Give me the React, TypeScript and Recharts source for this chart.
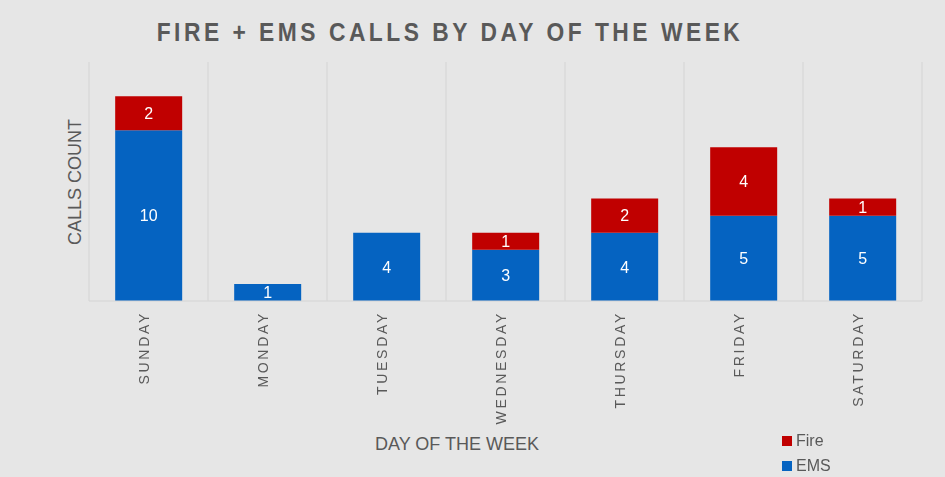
import { Bar, BarChart, CartesianGrid, LabelList, XAxis, YAxis } from "recharts";

const days = ["SUNDAY", "MONDAY", "TUESDAY", "WEDNESDAY", "THURSDAY", "FRIDAY", "SATURDAY"];
const emsCalls = [10, 1, 4, 3, 4, 5, 5];
const fireCalls = [2, 0, 0, 1, 2, 4, 1];

const data = days.map((day, i) => ({ day, ems: emsCalls[i], fire: fireCalls[i] }));

const GRAY = "#595959";
const FONT = "'Liberation Sans', Arial, sans-serif";

const DayTick = ({ x, y, payload }: any) => (
  <text
    x={x}
    y={y}
    dx={5}
    transform={`rotate(-90, ${x}, ${y})`}
    textAnchor="end"
    fill={GRAY}
    fontSize={14}
    fontFamily={FONT}
    letterSpacing={2.7}
  >
    {payload.value}
  </text>
);

const hideZero = (v: any) => (v === 0 ? "" : v);

const App = () => {
  return (
    <div
      style={{
        position: "fixed",
        left: 0,
        top: 0,
        width: 945,
        height: 477,
        background: "#e6e6e6",
        fontFamily: FONT,
      }}
    >
      <div
        style={{
          position: "absolute",
          left: 0,
          width: 900,
          top: 17,
          textAlign: "center",
          fontWeight: "bold",
          fontSize: 26,
          letterSpacing: 4,
          color: GRAY,
          lineHeight: "30px",
          transform: "scaleX(0.877)",
          transformOrigin: "450px 0",
          whiteSpace: "nowrap",
        }}
      >
        FIRE + EMS CALLS BY DAY OF THE WEEK
      </div>
      <div
        style={{
          position: "absolute",
          left: 75,
          top: 182,
          transform: "translate(-50%, -50%) rotate(-90deg)",
          fontSize: 18,
          color: GRAY,
          whiteSpace: "nowrap",
        }}
      >
        CALLS COUNT
      </div>
      <div
        style={{
          position: "absolute",
          left: 457,
          top: 434,
          transform: "translateX(-50%)",
          fontSize: 18,
          color: GRAY,
          whiteSpace: "nowrap",
        }}
      >
        DAY OF THE WEEK
      </div>
      <div style={{ position: "absolute", left: 782, top: 428, fontSize: 16, color: GRAY, lineHeight: "25px" }}>
        <div style={{ display: "flex", alignItems: "center" }}>
          <span style={{ width: 10, height: 10, background: "#c00000", marginRight: 4, display: "inline-block" }} />
          Fire
        </div>
        <div style={{ display: "flex", alignItems: "center" }}>
          <span style={{ width: 10, height: 10, background: "#0563c1", marginRight: 4, display: "inline-block" }} />
          EMS
        </div>
      </div>
      <BarChart
        width={945}
        height={477}
        data={data}
        margin={{ top: 62, right: 23, left: 89, bottom: 36 }}
        barCategoryGap="22%"
        style={{ position: "absolute", left: 0, top: 0 }}
      >
        <CartesianGrid
          horizontal={false}
          stroke="#d4d4d4"
          verticalCoordinatesGenerator={({ offset }: any) =>
            days.map((_, i) => offset.left + (i * offset.width) / days.length).concat(offset.left + offset.width)
          }
        />
        <XAxis
          dataKey="day"
          height={140}
          interval={0}
          tickLine={false}
          tickSize={0}
          tickMargin={15}
          axisLine={{ stroke: "#d4d4d4" }}
          tick={<DayTick />}
        />
        <YAxis hide domain={[0, 14]} />
        <Bar dataKey="ems" stackId="calls" fill="#0563c1" isAnimationActive={false}>
          <LabelList dataKey="ems" position="center" fill="#ffffff" fontSize={16} fontFamily={FONT} formatter={hideZero} />
        </Bar>
        <Bar dataKey="fire" stackId="calls" fill="#c00000" isAnimationActive={false}>
          <LabelList dataKey="fire" position="center" fill="#ffffff" fontSize={16} fontFamily={FONT} formatter={hideZero} />
        </Bar>
      </BarChart>
    </div>
  );
};

export default App;
